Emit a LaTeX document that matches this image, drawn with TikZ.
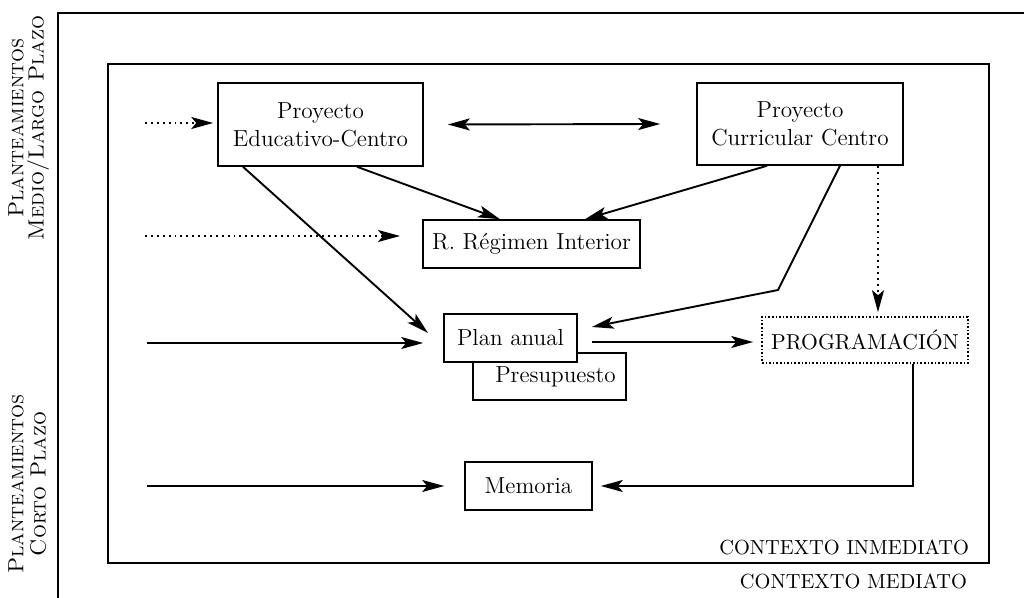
\documentclass[tikz,border=0pt]{standalone}
\usetikzlibrary{arrows.meta}
\begin{document}
\begin{tikzpicture}[x=0.5pt,y=-0.5pt,
  font=\fontsize{11.6}{14}\selectfont,
  frame/.style={line width=1.3pt},
  box/.style={draw,line width=0.8pt,fill=white,inner sep=0pt,align=center},
  conn/.style={line width=0.95pt,-{Stealth[length=11pt,width=6pt,inset=2.5pt]}},
  dconn/.style={conn,dotted},
  dbl/.style={line width=0.95pt,{Stealth[length=11pt,width=6pt,inset=2.5pt]}-{Stealth[length=11pt,width=6pt,inset=2.5pt]}},
  ctx/.style={font=\fontsize{10.2}{12}\selectfont},
  side/.style={rotate=90,font=\fontsize{11}{13}\selectfont}
]
\useasboundingbox (0,0) rectangle (1024,598);
% frames
\draw[frame] (1024,13) -- (58,13) -- (58,598);
\draw[frame] (108,64) rectangle (989,563);
% side labels
\node[side] (l1) at (16,128) {\textsc{Planteamientos}};
\node[side] (l2) at (38,128) {\textsc{Medio/Largo Plazo}};
\node[side] (l3) at (16,484) {\textsc{Planteamientos}};
\node[side] (l4) at (38,484) {\textsc{Corto Plazo}};
% boxes
\node[box,minimum width=102.5pt,minimum height=41.5pt] (pec) at (320.5,124.5) {Proyecto\\Educativo-Centro};
\node[box,minimum width=103pt,minimum height=41pt] (pcc) at (800,124) {Proyecto\\Curricular Centro};
\node[box,minimum width=108.5pt,minimum height=24pt] (rri) at (531.5,244) {R. R\'egimen Interior};
\node[box,minimum width=76.5pt,minimum height=23.5pt] (pres) at (549.5,376.5) {\hspace*{6pt}Presupuesto};
\node[box,minimum width=66.5pt,minimum height=24pt] (pa) at (510.5,338) {Plan anual};
\node[box,densely dotted,minimum width=103pt,minimum height=23pt,font=\fontsize{10.8}{13}\selectfont] (prog) at (865,340) {PROGRAMACI\'ON};
\node[box,minimum width=63.5pt,minimum height=24pt] (mem) at (528.5,486) {Memoria};
\node[ctx,anchor=east] (ci) at (976,547) {CONTEXTO INMEDIATO};
\node[ctx,anchor=east] (cm) at (974,581) {CONTEXTO MEDIATO};
% free ends
\coordinate (in1) at (145,123);
\coordinate (in2) at (145,236);
\coordinate (in3) at (147,343);
\coordinate (in4) at (147,486);
\coordinate (rriIn) at (400,236);
\coordinate (bend) at (778,290);
\coordinate (corner) at (913,486);
% connectors
\draw[dconn,shorten >=2pt] (in1) -- (pec.west |- in1);
\draw[dbl] ([xshift=12pt]pec.east) -- ([xshift=-18pt]pcc.west);
\draw[conn] (pec.south -| 357,0) -- (rri.north -| 500,0);
\draw[conn] (pcc.south -| 767,0) -- (rri.north -| 585,0);
\draw[conn] (pec.south -| 243,0) -- (428,333) coordinate (pat1);
\draw[conn] (pcc.south -| 840,0) -- (bend) -- ([xshift=7pt]pa.east |- 0,327);
\draw[dconn] (pcc.south -| 878,0) -- ([yshift=2pt]prog.north -| 878,0);
\draw[dconn] (in2) -- (rriIn);
\draw[conn] (in3) -- ([xshift=-10pt]pa.west |- in3);
\draw[conn] ([xshift=7pt]pa.east |- 0,342) -- ([xshift=-4pt]prog.west |- 0,342);
\draw[conn] (prog.south -| corner) -- (corner) -- ([xshift=4pt]mem.east |- corner);
\draw[conn] (in4) -- ([xshift=-10pt]mem.west |- in4);
\end{tikzpicture}
\end{document}
